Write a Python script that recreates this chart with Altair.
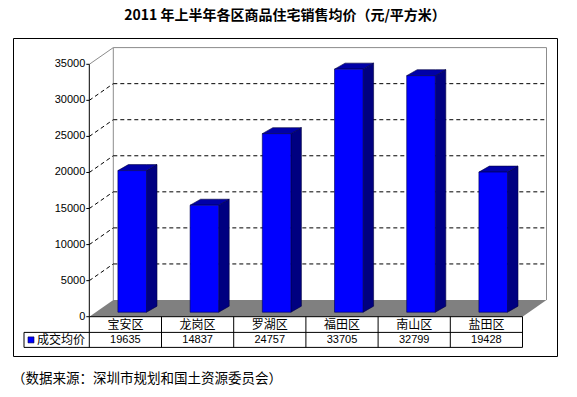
import altair as alt
import pandas as pd

# ---------------- data ----------------
categories = ["宝安区", "龙岗区", "罗湖区", "福田区", "南山区", "盐田区"]
values = [19635, 14837, 24757, 33705, 32799, 19428]
y_ticks = [0, 5000, 10000, 15000, 20000, 25000, 30000, 35000]
series_name = "成交均价"
title_text = "2011 年上半年各区商品住宅销售均价（元/平方米）"
source_text = "（数据来源：深圳市规划和国土资源委员会）"

# ---------------- layout (pixels -> data units) ----------------
VIEW_W, VIEW_H = 544, 318
CAT_PX = 72.2
K = 252.4 / 35000
ORIGIN_X = 76.3
ORIGIN_Y = 278.7


def ux(px):
    return px / CAT_PX


def uy(px):
    return px / K


XMIN, XMAX = -ORIGIN_X / CAT_PX, (VIEW_W - ORIGIN_X) / CAT_PX
YMIN, YMAX = -(VIEW_H - ORIGIN_Y) / K, ORIGIN_Y / K
N = len(categories)
TOP = max(y_ticks)
DX, DY = ux(24), uy(16.7)
BAR_L, BAR_R = ux(28.6), ux(57.2)
BASE = uy(4.5)
SDX, SDY = ux(10.5), uy(6.0)
ROW1, ROW2 = -uy(15.7), -uy(30.7)
LEG_L = ux(24 - 89.3)

xscale = alt.Scale(domain=[XMIN, XMAX], nice=False, zero=False)
yscale = alt.Scale(domain=[YMIN, YMAX], nice=False, zero=False)


def X(f):
    return alt.X(f"{f}:Q", scale=xscale, axis=None)


def Y(f):
    return alt.Y(f"{f}:Q", scale=yscale, axis=None)


def slanted_top(key, l, r, y0, sx, sy):
    return [
        {"k": key, "x": l, "lo": y0, "hi": y0},
        {"k": key, "x": l + sx, "lo": y0, "hi": y0 + sy},
        {"k": key, "x": r, "lo": y0, "hi": y0 + sy},
        {"k": key, "x": r + sx, "lo": y0 + sy, "hi": y0 + sy},
    ]


def rules(df, **kw):
    return alt.Chart(pd.DataFrame(df)).mark_rule(**kw).encode(
        x=X("x"), x2=alt.X2("x2"), y=Y("y"), y2=alt.Y2("y2"))


# floor
floor = alt.Chart(pd.DataFrame(slanted_top("floor", 0, N, 0, DX, DY))).mark_area(
    color="#808080").encode(x=X("x"), y=Y("lo"), y2=alt.Y2("hi"), detail="k:N")

wall = rules([
    {"x": DX, "x2": DX, "y": DY, "y2": TOP + DY},
    {"x": DX, "x2": N + DX, "y": TOP + DY, "y2": TOP + DY},
    {"x": N + DX, "x2": N + DX, "y": DY, "y2": TOP + DY},
    {"x": 0, "x2": DX, "y": TOP, "y2": TOP + DY},
], color="#8c8c8c", strokeWidth=1)

grid_rows = []
for v in y_ticks[1:-1]:
    grid_rows.append({"x": DX, "x2": N + DX, "y": v + DY, "y2": v + DY})
    grid_rows.append({"x": 0, "x2": DX, "y": v, "y2": v + DY})
grid = rules(grid_rows, color="black", strokeWidth=1, strokeDash=[4, 3])

# y axis: line, ticks, labels
axis_rows = [{"x": 0, "x2": 0, "y": 0, "y2": TOP}]
for v in y_ticks:
    axis_rows.append({"x": -ux(3), "x2": 0, "y": v, "y2": v})
yaxis = rules(axis_rows, color="black", strokeWidth=1)
ylab_df = pd.DataFrame({"x": [-ux(4)] * len(y_ticks), "y": y_ticks,
                        "t": [str(v) for v in y_ticks]})
ylabels = alt.Chart(ylab_df).mark_text(
    font="Liberation Sans", fontSize=11, color="black", align="right",
    baseline="middle").encode(x=X("x"), y=Y("y"), text="t:N")

# bars
front_rows, side_rows, top_rows = [], [], []
for i, (c, v) in enumerate(zip(categories, values)):
    L = i + BAR_L
    R = i + BAR_R
    front_rows.append({"x": L, "x2": R, "y": BASE, "y2": v + BASE})
    side_rows.append({"k": c, "x": R, "lo": BASE, "hi": v + BASE})
    side_rows.append({"k": c, "x": R + SDX, "lo": BASE + SDY, "hi": v + BASE + SDY})
    top_rows.extend(slanted_top(c, L, R, v + BASE, SDX, SDY))

side = alt.Chart(pd.DataFrame(side_rows)).mark_area(
    color="#000080", stroke="#000040", strokeWidth=0.6).encode(
    x=X("x"), y=Y("lo"), y2=alt.Y2("hi"), detail="k:N")
top = alt.Chart(pd.DataFrame(top_rows)).mark_area(
    color="#0000A8", stroke="#000040", strokeWidth=0.6).encode(
    x=X("x"), y=Y("lo"), y2=alt.Y2("hi"), detail="k:N")
front = alt.Chart(pd.DataFrame(front_rows)).mark_rect(
    color="#0000FF", stroke="#000050", strokeWidth=0.6).encode(
    x=X("x"), x2=alt.X2("x2"), y=Y("y"), y2=alt.Y2("y2"))

# data table
tab_rows = [
    {"x": 0, "x2": N, "y": 0, "y2": 0},
    {"x": LEG_L, "x2": N, "y": ROW1, "y2": ROW1},
    {"x": LEG_L, "x2": N, "y": ROW2, "y2": ROW2},
    {"x": LEG_L, "x2": LEG_L, "y": ROW2, "y2": ROW1},
]
for i in range(N + 1):
    tab_rows.append({"x": i, "x2": i, "y": ROW2, "y2": 0})
table_lines = rules(tab_rows, color="black", strokeWidth=1)

cat_df = pd.DataFrame({"x": [i + 0.5 for i in range(N)],
                       "y": [ROW1 / 2] * N, "t": categories})
cat_text = alt.Chart(cat_df).mark_text(
    font="Noto Sans CJK SC", fontSize=12, color="black", baseline="middle").encode(
    x=X("x"), y=Y("y"), text="t:N")

val_df = pd.DataFrame({"x": [i + 0.5 for i in range(N)],
                       "y": [(ROW1 + ROW2) / 2] * N,
                       "t": [str(v) for v in values]})
val_text = alt.Chart(val_df).mark_text(
    font="Liberation Sans", fontSize=11, color="black", baseline="middle").encode(
    x=X("x"), y=Y("y"), text="t:N")

ym = (ROW1 + ROW2) / 2
leg_sq = alt.Chart(pd.DataFrame([{"x": LEG_L + ux(4), "x2": LEG_L + ux(10),
                                  "y": ym - uy(3), "y2": ym + uy(3)}])).mark_rect(
    color="#0000FF", stroke="#000040", strokeWidth=0.6).encode(
    x=X("x"), x2=alt.X2("x2"), y=Y("y"), y2=alt.Y2("y2"))
leg_df = pd.DataFrame({"x": [LEG_L + ux(13)], "y": [ym], "t": [series_name]})
leg_text = alt.Chart(leg_df).mark_text(
    font="Noto Sans CJK SC", fontSize=12, color="black", align="left",
    baseline="middle").encode(x=X("x"), y=Y("y"), text="t:N")

# title and source note as text marks
title_df = pd.DataFrame({"x": [XMIN + ux(VIEW_W / 2)], "y": [uy(301)],
                         "t": [title_text]})
title = alt.Chart(title_df).mark_text(
    font="Noto Sans CJK SC", fontSize=14, fontWeight="bold", color="black",
    align="center", baseline="middle").encode(x=X("x"), y=Y("y"), text="t:N")

src_df = pd.DataFrame({"x": [XMIN - ux(1)], "y": [-uy(62)], "t": [source_text]})
src = alt.Chart(src_df).mark_text(
    font="Noto Sans CJK SC", fontSize=13.5, color="black", align="left",
    baseline="middle").encode(x=X("x"), y=Y("y"), text="t:N")

chart = alt.layer(
    floor, wall, grid, yaxis, ylabels, side, top, front,
    table_lines, cat_text, val_text, leg_sq, leg_text, title, src
).properties(
    width=VIEW_W, height=VIEW_H,
    padding={"left": 5, "top": 30, "right": 12, "bottom": 33},
    autosize=alt.AutoSizeParams(type="none"),
).configure_view(stroke="black", strokeWidth=1)

chart.save("out.html", embed_options={"renderer": "svg", "actions": False})
